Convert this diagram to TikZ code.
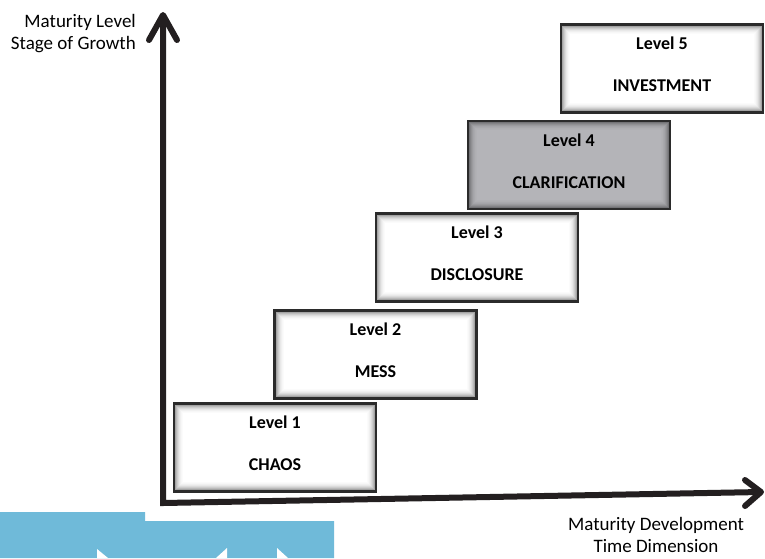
\documentclass[tikz,border=0pt]{standalone}
\usepackage{fontspec}
\setmainfont{Carlito}
\usetikzlibrary{calc}
\definecolor{axiscol}{HTML}{231F20}
\definecolor{boxline}{HTML}{2B2B2B}
\definecolor{skyblue}{HTML}{6FBAD9}
\definecolor{grayfour}{HTML}{B4B4B8}
\begin{document}
\begin{tikzpicture}[x=1pt,y=-1pt,
  lvlbox/.style={draw=boxline, line width=2.5pt, fill=#1, minimum width=202pt, minimum height=88pt, inner sep=0pt,
    path picture={\foreach \gi/\gc in {1.75/36,2.75/27,3.75/20,4.75/14,5.75/9,6.75/6,7.75/3,8.75/1.5}{
      \draw[line width=1pt, black!\gc!#1] ([shift={(\gi pt,\gi pt)}]path picture bounding box.south west) rectangle ([shift={(-\gi pt,-\gi pt)}]path picture bounding box.north east);}}},
  lvltxt/.style={font=\fontsize{18}{22}\selectfont\bfseries, anchor=base, inner sep=0pt},
  axislbl/.style={font=\fontsize{19}{22}\selectfont, inner sep=0pt},
  axisline/.style={draw=axiscol, line width=6pt},
  tipline/.style={axisline, line cap=round, line join=round}
]
\useasboundingbox (0,0) rectangle (765,558);

% decorative blue band
\fill[skyblue] (0,512) -- (145,512) -- (145,521) -- (334,521) -- (334,558) -- (0,558) -- cycle;
\fill[white] (97,549) -- (108,558) -- (97,558) -- cycle;
\fill[white] (227,548) -- (216,558) -- (227,558) -- cycle;
\fill[white] (277,548) -- (288,558) -- (277,558) -- cycle;

% level boxes
\node[lvlbox=white] (l1) at (275,447.5) {};
\node[lvlbox=white] (l2) at (375.5,354.5) {};
\node[lvlbox=white] (l3) at (477,257.5) {};
\node[lvlbox=grayfour] (l4) at (569,165) {};
\node[lvlbox=white] (l5) at (662,68.5) {};

\foreach \n/\a/\b in {l1/Level 1/CHAOS, l2/Level 2/MESS, l3/Level 3/DISCLOSURE, l4/Level 4/CLARIFICATION, l5/Level 5/INVESTMENT}{
  \node[lvltxt] (\n a) at ($(\n.center)+(0,-19)$) {\a};
  \node[lvltxt] (\n b) at ($(\n.center)+(0,23)$) {\b};
}

% axes
\coordinate (ytip) at (163,15);
\coordinate (origin) at (163,503);
\coordinate (xtip) at (761,492);
\draw[axisline] (ytip) -- (origin) -- (xtip);
\draw[tipline] ([shift={(-14,25)}]ytip) -- (ytip) -- ([shift={(14,25)}]ytip);
\draw[tipline] ([shift={(-16,-12)}]xtip) -- (xtip) -- ([shift={(-16,14)}]xtip);

% axis labels
\node[axislbl, align=right, anchor=east] (ylbl) at (136,34) {Maturity Level\\Stage of Growth};
\node[axislbl, align=center] (xlbl) at (656,535) {Maturity Development\\Time Dimension};
\end{tikzpicture}
\end{document}
